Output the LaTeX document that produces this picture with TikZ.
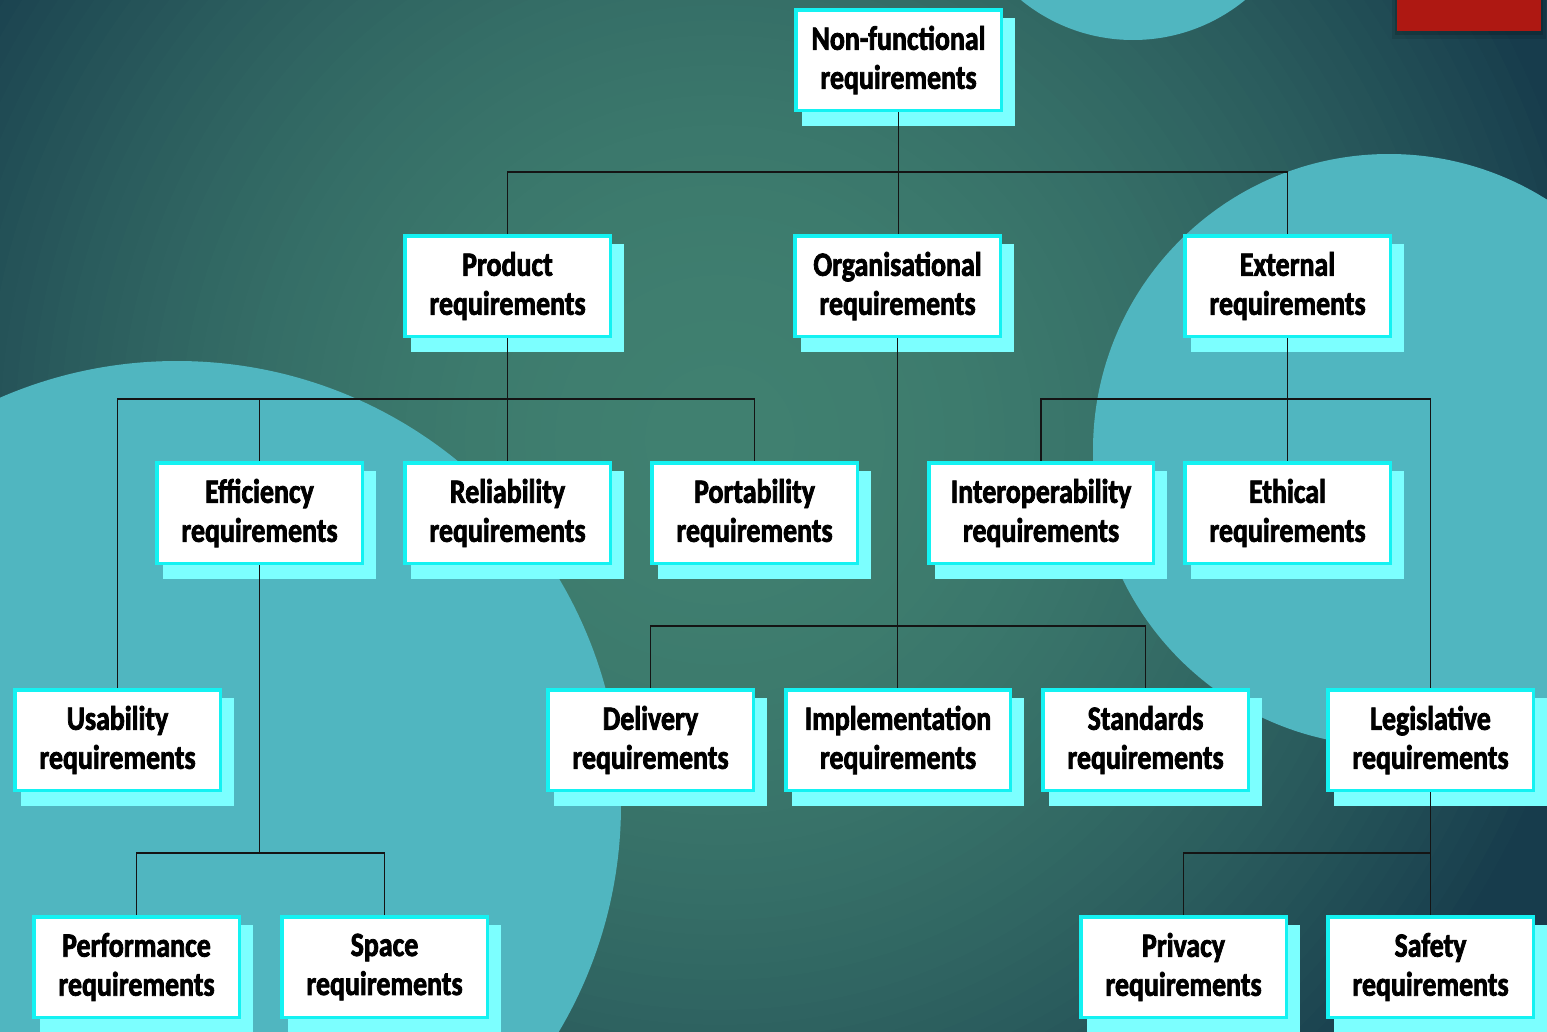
\documentclass[tikz,border=0pt]{standalone}
\usepackage{fontspec}
\newfontfamily\boxfont{Carlito}[FakeStretch=0.82, FakeBold=2.2]
\usetikzlibrary{calc}

\definecolor{glowc}{HTML}{408070}
\definecolor{edgec}{HTML}{173C4C}
\definecolor{pale}{HTML}{50B6C0}
\definecolor{boxrim}{HTML}{14F2F2}
\definecolor{shadowc}{HTML}{7CFFFF}
\definecolor{redc}{HTML}{AE1812}

\pgfdeclarelayer{back}
\pgfdeclarelayer{shade}
\pgfdeclarelayer{wires}
\pgfsetlayers{back,shade,wires,main}

\begin{document}
\begin{tikzpicture}[x=1pt,y=-1pt,
  req/.style={draw=boxrim, line width=3.5pt, fill=white,
    minimum width=205.5pt, minimum height=100.5pt, inner sep=0pt,
    align=center, font=\boxfont\bfseries\fontsize{34}{39}\selectfont},
  wide/.style={req, minimum width=224.5pt},
  wire/.style={draw=black!92, line width=1.2pt}]

\useasboundingbox (0,0) rectangle (1547,1031);

% backdrop: glowing teal field with pale discs
\begin{pgfonlayer}{back}
  \clip (0,0) rectangle (1547,1031);
  \fill[edgec] (0,0) rectangle (1547,1031);
  % soft radial glow built from concentric rings
  \foreach \r in {1200,1185,...,0} {
    \pgfmathsetmacro\p{max(0,100*(1-(\r/900)^2))}
    \fill[glowc!\p!edgec] (720,440) circle[radius=\r];
  }
  \fill[pale] (1389,450) circle[radius=296];
  \fill[pale] (1133,-137) circle[radius=177];
  \fill[pale] (177,805) circle[radius=444];
  % red tab in the corner with its soft shadow
  \fill[black, opacity=0.10] (1392,0) rectangle (1546,39);
  \fill[black, opacity=0.15] (1395,0) rectangle (1543,35);
  \fill[redc] (1397,0) rectangle (1541,31);
\end{pgfonlayer}

% requirement boxes
\node[req] (nf)    at (898.5,60)  {Non-functional\\requirements};
\node[req] (prod)  at (507.5,286) {Product\\requirements};
\node[req] (org)   at (897.5,286) {Organisational\\requirements};
\node[req] (ext)   at (1287.5,286) {External\\requirements};
\node[req] (eff)   at (259.5,513) {Efficiency\\requirements};
\node[req] (rel)   at (507.5,513) {Reliability\\requirements};
\node[req] (port)  at (754.5,513) {Portability\\requirements};
\node[wide] (inter) at (1041,513) {Interoperability\\requirements};
\node[req] (eth)   at (1287.5,513) {Ethical\\requirements};
\node[req] (usa)   at (117.5,740) {Usability\\requirements};
\node[req] (del)   at (650.5,740) {Delivery\\requirements};
\node[wide] (impl) at (898,740)   {Implementation\\requirements};
\node[req] (std)   at (1145.5,740) {Standards\\requirements};
\node[req] (leg)   at (1430.5,740) {Legislative\\requirements};
\node[req] (perf)  at (136.5,967) {Performance\\requirements};
\node[req] (space) at (384.5,967) {Space\\requirements};
\node[req] (priv)  at (1183.5,967) {Privacy\\requirements};
\node[req] (safe)  at (1430.5,967) {Safety\\requirements};

% offset shadows behind every box
\begin{pgfonlayer}{shade}
  \foreach \n in {nf,prod,org,ext,eff,rel,port,inter,eth,usa,del,impl,std,leg,perf,space,priv,safe}
    \fill[shadowc] ($(\n.south west)+(8.25,13.75)$) rectangle ($(\n.north east)+(11.75,10.25)$);
\end{pgfonlayer}

% tree connectors
\coordinate (busA) at (0,172);
\coordinate (busB) at (0,399);
\coordinate (busC) at (0,626);
\coordinate (busD) at (0,853);
\begin{pgfonlayer}{wires}
  \draw[wire] (nf.south) -- (nf.south |- org.north);
  \draw[wire] (prod.north) -- (prod.north |- busA) -| (ext.north);

  \draw[wire] (prod.south) -- (prod.south |- rel.north);
  \draw[wire] (usa.north) -- (usa.north |- busB) -| (port.north);
  \draw[wire] (eff.north) -- (eff.north |- busB);

  \draw[wire] (ext.south) -- (ext.south |- eth.north);
  \draw[wire] (inter.north) -- (inter.north |- busB) -| (leg.north);

  \draw[wire] (org.south) -- (org.south |- impl.north);
  \draw[wire] (del.north) -- (del.north |- busC) -| (std.north);

  \draw[wire] (eff.south) -- (eff.south |- busD);
  \draw[wire] (perf.north) -- (perf.north |- busD) -| (space.north);

  \draw[wire] (leg.south) -- (leg.south |- safe.north);
  \draw[wire] (priv.north) -- (priv.north |- busD) -| (safe.north);
\end{pgfonlayer}
\end{tikzpicture}
\end{document}
